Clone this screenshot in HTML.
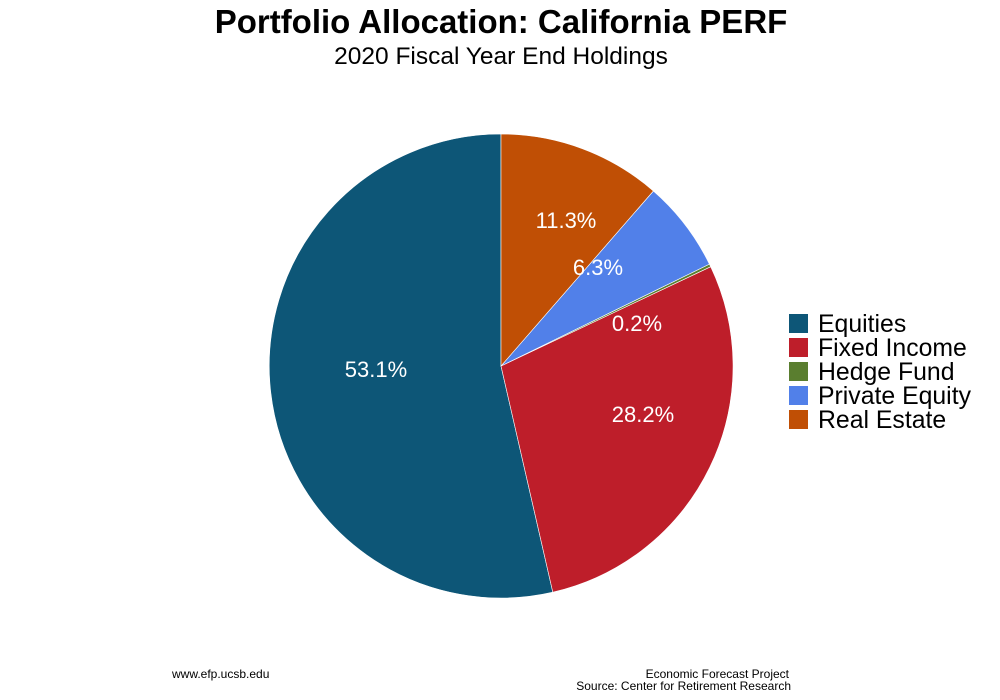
<!DOCTYPE html>
<html><head><meta charset="utf-8"><style>
body{margin:0;background:#fff;}
svg{display:block;font-family:"Liberation Sans",Arial,sans-serif;}
</style></head><body>
<svg width="1000" height="700" viewBox="0 0 1000 700">
<rect width="1000" height="700" fill="#fff"/>
<text x="501" y="33" text-anchor="middle" font-size="33" font-weight="bold" fill="#000">Portfolio Allocation: California PERF</text>
<text x="501" y="64" text-anchor="middle" font-size="24.5" fill="#000">2020 Fiscal Year End Holdings</text>
<g stroke="#fff" stroke-width="0.6">
<path d="M501,366 L501,134 A232,232 0 1 0 552.8,592.2 Z" fill="#0d5677"/>
<path d="M501,366 L552.8,592.2 A232,232 0 0 0 710.7,266.7 Z" fill="#be1e2a"/>
<path d="M501,366 L710.7,266.7 A232,232 0 0 0 709.4,264.1 Z" fill="#5a7e2f"/>
<path d="M501,366 L709.4,264.1 A232,232 0 0 0 653.4,191.0 Z" fill="#5180e9"/>
<path d="M501,366 L653.4,191.0 A232,232 0 0 0 501,134 Z" fill="#c04f05"/>
</g>
<g fill="#fff" font-size="22" text-anchor="middle">
<text x="376" y="377">53.1%</text>
<text x="643" y="422">28.2%</text>
<text x="637" y="331">0.2%</text>
<text x="598" y="275">6.3%</text>
<text x="566" y="228">11.3%</text>
</g>
<g font-size="24.8" fill="#000">
<rect x="789" y="314" width="19" height="19" fill="#0d5677"/><text x="818" y="332">Equities</text>
<rect x="789" y="338" width="19" height="19" fill="#be1e2a"/><text x="818" y="356">Fixed Income</text>
<rect x="789" y="362" width="19" height="19" fill="#5a7e2f"/><text x="818" y="380">Hedge Fund</text>
<rect x="789" y="386" width="19" height="19" fill="#5180e9"/><text x="818" y="404">Private Equity</text>
<rect x="789" y="410" width="19" height="19" fill="#c04f05"/><text x="818" y="428">Real Estate</text>
</g>
<g font-size="12" fill="#000">
<text x="172" y="678">www.efp.ucsb.edu</text>
<text x="789" y="678" text-anchor="end">Economic Forecast Project</text>
<text x="791" y="690" text-anchor="end">Source: Center for Retirement Research</text>
</g>
</svg>
</body></html>
